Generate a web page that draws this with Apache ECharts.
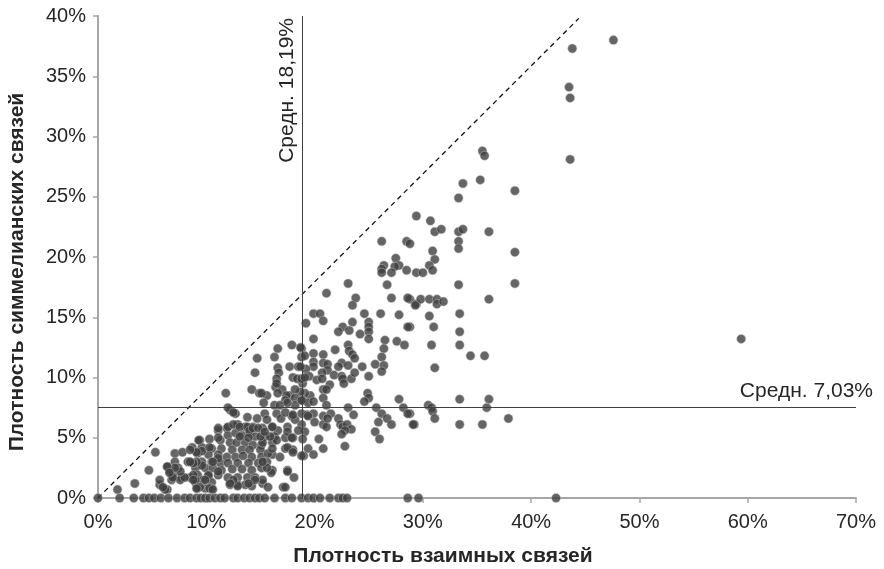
<!DOCTYPE html>
<html><head><meta charset="utf-8">
<script src="https://cdn.jsdelivr.net/npm/echarts@6/dist/echarts.min.js"></script>
<style>html,body{margin:0;padding:0;background:#fff}#c{width:884px;height:569px}</style>
</head><body><div id="c"></div>
<script>
// ---- data (percent) ----
const xAxisTitle = 'Плотность взаимных связей';
const yAxisTitle = 'Плотность симмелианских связей';
const xRange = {min: 0, max: 70, interval: 10};
const yRange = {min: 0, max: 40, interval: 5};
const meanLabelX = 'Средн. 18,19%';
const meanLabelY = 'Средн. 7,03%';
const meanLineX = 18.9;   // position of vertical mean line as drawn
const meanLineY = 7.55;   // position of horizontal mean line as drawn
const referenceLine = [[0, 0], [44.4, 39.8]];

const pointsUpper = [
[43.8,37.3],[43.5,34.1],[43.6,33.2],[43.6,28.1],[47.6,38.0],[59.4,13.2],[35.5,28.8],[35.7,28.4],
[33.7,26.1],[35.3,26.4],[38.5,25.5],[33.3,24.9],[29.4,23.4],[30.7,23.0],[31.1,22.1],[31.7,22.3],
[33.3,22.1],[33.7,22.3],[36.1,22.1],[26.2,21.3],[28.5,21.3],[28.8,21.1],[33.3,21.3],[33.3,20.7],
[38.5,20.4],[30.9,20.5],[31.1,19.8],[27.5,19.9],[27.8,19.3],[27.4,19.2],[26.4,19.3],[26.2,19.0],
[26.2,18.7],[27.1,18.7],[28.5,18.9],[29.4,18.7],[30.0,18.7],[30.6,19.3],[30.9,18.9],[23.1,17.8],
[26.7,17.7],[33.3,17.7],[38.5,17.8],[36.1,16.5],[28.8,16.5],[29.4,16.1],[29.8,16.5],[30.6,16.5],
[31.3,16.5],[31.3,16.1],[31.9,16.3],[30.6,15.1],[28.8,14.2],[31.0,14.2],[33.4,15.3],[33.4,13.8],
[33.4,12.7],[30.8,12.7],[34.4,11.8],[35.7,11.8],[31.1,10.8],[33.4,8.2],[36.1,8.2],[35.9,7.5],
[30.5,7.7],[30.8,7.5],[30.9,7.2],[31.1,6.6],[28.8,7.0],[29.2,6.1],[33.4,6.1],[35.5,6.1],[37.9,6.6]
];

const pointsMiddle = [
[21.1,17.0],[23.8,16.6],[23.5,16.0],[27.1,16.6],[28.6,16.6],[29.3,16.0],[19.9,15.3],[20.5,15.3],
[20.8,14.7],[19.2,14.5],[24.6,15.3],[26.1,15.3],[27.8,15.2],[28.6,14.2],[25.0,14.6],[25.0,14.2],
[25.0,13.8],[25.0,13.2],[23.5,14.6],[22.6,14.2],[23.2,13.9],[22.2,13.8],[24.2,13.6],[19.9,13.2],
[26.5,13.1],[27.6,13.0],[28.3,12.7],[26.4,12.4],[23.1,12.7],[23.2,12.2],[21.9,12.3],[18.8,12.4],
[19.9,12.0],[20.8,11.9],[18.8,11.7],[19.1,11.8],[23.5,11.9],[23.7,11.6],[26.2,11.7],[25.6,11.1],
[26.4,11.0],[26.2,10.5],[24.4,10.9],[19.9,11.3],[19.9,10.9],[20.8,11.2],[21.2,11.1],[22.5,11.2],
[22.2,10.9],[23.1,11.0],[19.2,10.7],[21.2,10.6],[20.7,10.4],[19.5,10.1],[21.8,10.2],[22.5,10.1],
[22.6,9.9],[23.4,9.9],[23.7,10.4],[20.2,9.8],[20.7,9.9],[22.7,9.5],[25.0,10.1],[18.9,9.5],
[21.4,9.4],[20.8,9.0],[21.1,9.0],[19.6,8.5],[19.1,8.7],[20.8,8.3],[24.9,8.7],[25.0,8.3],
[24.6,8.0],[27.8,8.2],[18.9,8.1],[19.4,7.9],[19.9,8.0],[21.1,7.7],[23.1,7.5],[25.7,7.5],
[28.2,7.5],[28.6,7.0],[23.6,6.9],[26.2,7.0],[26.7,6.6],[27.1,6.1],[25.9,6.3],[29.1,6.1],
[18.8,7.0],[19.3,6.9],[19.9,7.0],[20.0,6.3],[20.8,6.8],[20.8,6.1],[21.1,5.9],[21.5,7.0],
[21.2,6.6],[22.2,6.6],[22.4,6.1],[22.6,5.9],[23.0,6.1],[23.4,5.7],[22.8,5.6],[22.5,5.3],
[25.6,5.5],[26.0,4.9],[18.8,6.1],[19.1,5.5],[18.9,4.9],[20.4,4.9],[22.8,4.3],[19.4,4.1],
[20.8,4.1],[19.9,3.6],[19.0,3.5],
[17.9,12.7],[16.6,12.4],[14.7,11.6],[16.3,11.7],[18.7,12.5],[14.5,10.4],[16.6,10.8],[16.7,10.4],
[16.5,9.9],[17.7,10.9],[18.5,10.9],[18.0,10.0],[18.4,9.9],[18.8,9.9],[18.7,10.9],[19.1,10.0],
[16.4,9.2],[17.0,9.0],[17.7,8.5],[18.7,8.8]
];

const pointsCluster = [
[11.8,8.7],[14.2,9.0],[14.9,8.7],[15.6,8.5],[16.6,8.7],[17.4,8.5],[16.5,9.5],[18.2,9.0],[18.2,8.3],
[17.3,8.1],[15.3,7.9],[16.3,7.7],[18.2,7.7],[12.2,7.3],[12.7,7.0],[13.8,6.7],[14.7,6.6],[15.4,7.0],
[16.5,7.0],[16.9,6.6],[17.9,6.8],[18.2,6.5],[17.5,5.9],[18.5,5.6],[16.1,5.9],[16.6,5.6],[15.2,5.8],
[12.9,6.1],[13.6,5.9],[14.3,5.9],[11.1,5.6],[11.9,5.8],[12.0,5.2],[12.7,5.4],[13.3,5.2],[14.0,5.4],
[14.5,5.1],[15.4,5.1],[16.3,5.1],[17.3,5.0],[18.0,5.0],[9.4,4.8],[10.3,4.9],[11.3,4.8],[12.2,4.6],
[12.8,4.6],[13.6,4.6],[14.3,4.4],[15.1,4.4],[16.1,4.6],[9.6,4.2],[10.5,4.1],[11.4,4.1],[12.4,4.0],
[13.3,4.0],[14.0,4.0],[15.0,4.0],[17.3,4.1],[18.0,4.0],[9.2,3.7],[10.2,3.6],[11.1,3.6],[11.9,3.4],
[12.7,3.4],[13.4,3.5],[14.2,3.4],[15.1,3.4],[16.1,3.6],[16.8,3.4],[18.8,3.5],[9.6,3.0],[10.5,3.0],
[11.3,2.9],[12.0,2.9],[12.9,2.9],[13.9,2.9],[14.8,2.9],[15.6,3.0],[9.0,2.5],[9.9,2.5],[10.6,2.5],
[11.4,2.3],[12.4,2.4],[13.3,2.4],[14.2,2.3],[15.1,2.5],[16.1,2.3],[17.5,2.3],[9.2,1.9],[10.2,1.8],
[11.1,1.9],[12.0,1.7],[12.9,1.7],[13.8,1.7],[14.5,1.7],[18.1,1.7],[9.0,1.3],[9.7,1.5],[10.5,1.3],
[12.2,1.1],[12.9,1.1],[13.6,1.1],[14.2,1.0],[15.2,1.2],[17.1,0.9],[9.2,0.8],[9.9,0.8],[10.5,0.8],
[12.0,7.5],[12.5,7.1],[15.1,8.7],[16.8,7.7],[17.5,7.9],[18.8,8.1],[17.3,7.1],[18.0,6.9],[19.4,6.8],
[17.5,5.5],[17.9,5.0],[17.5,4.2],[18.0,3.8],[17.5,2.2],[17.3,0.9],[15.7,0.9],[15.2,1.5],[16.0,2.1],
[15.6,2.5],[15.2,3.0],[15.7,3.7],[16.1,4.1],[16.5,4.8],[15.9,5.1],[15.2,4.6],[14.5,1.5],[13.9,1.2],
[12.9,1.0],[12.5,1.5],[12.2,1.2],[11.1,2.2],[10.2,1.9],[9.9,1.5],[9.4,0.9],[10.3,0.8],[10.6,0.7],
[9.6,2.7],[9.1,3.0],[9.6,3.9],[10.3,4.2],[11.1,5.8],[11.1,5.0],[11.1,3.3],[10.6,3.0],[12.0,5.9],
[12.5,6.1],[13.1,5.9],[13.1,5.1],[13.8,5.9],[14.0,5.6],[14.3,5.8],[14.8,5.8],[13.9,5.0],[15.0,5.1],
[15.4,5.5],[16.1,5.9],[15.6,6.5]
];

const pointsLeft = [
[5.3,3.8],[4.7,2.3],[3.4,1.2],[1.8,0.7],[5.7,1.1],[6.4,0.7],[7.1,3.7],[7.8,3.8],[8.7,4.2],[9.1,3.8],
[9.3,4.8],[7.1,3.0],[8.3,3.0],[8.8,2.9],[6.4,2.6],[6.6,2.3],[7.4,2.5],[6.9,1.9],[7.7,1.7],[8.5,1.7],
[9.0,1.5],[6.8,1.5],[7.6,1.5],[9.1,0.8],[8.5,3.0],[8.0,1.7],[7.6,2.2],[7.1,2.5],[6.9,1.7],[6.4,2.6],
[6.6,2.1],[5.7,1.5],[6.2,0.7],[8.8,1.9],[8.8,1.5],[8.5,4.0],[6.0,0.9]
];

const zeroRowX = [0,2.0,3.3,4.2,4.7,5.2,5.8,6.5,7.3,8.0,8.5,9.1,9.5,9.9,10.3,10.8,11.3,11.7,12.5,12.9,
13.5,14.0,14.5,14.9,15.4,16.3,17.3,17.9,18.8,19.4,19.9,20.5,21.4,22.2,22.6,23.0,28.6,29.6,42.3];

// ---- chart ----
const font = "'Liberation Sans', Arial, sans-serif";
const textColor = '#262626';
const axisColor = '#a6a6a6';
const allPoints = [].concat(pointsUpper, pointsMiddle, pointsCluster, pointsLeft, zeroRowX.map(x => [x, 0]));

const chart = echarts.init(document.getElementById('c'), null, {renderer: 'canvas'});
chart.setOption({
  animation: false,
  backgroundColor: '#fff',
  grid: {left: 98, right: 28, top: 16, bottom: 71, outerBoundsMode: 'none', containLabel: false},
  xAxis: {
    type: 'value', min: xRange.min, max: xRange.max, interval: xRange.interval,
    name: xAxisTitle, nameLocation: 'middle', nameGap: 48,
    nameTextStyle: {fontFamily: font, fontSize: 21, fontWeight: 'bold', color: textColor, padding: [0, 68, 0, 0]},
    axisLine: {show: true, onZero: false, lineStyle: {color: axisColor, width: 2}},
    axisTick: {show: true, length: 5, lineStyle: {color: axisColor, width: 1.5}},
    axisLabel: {formatter: '{value}%', fontFamily: font, fontSize: 20, color: textColor, margin: 14},
    splitLine: {show: false}
  },
  yAxis: {
    type: 'value', min: yRange.min, max: yRange.max, interval: yRange.interval,
    name: yAxisTitle, nameLocation: 'middle', nameGap: 70,
    nameTextStyle: {fontFamily: font, fontSize: 21, fontWeight: 'bold', color: textColor, padding: [0, 30, 0, 0]},
    axisLine: {show: true, lineStyle: {color: axisColor, width: 2}},
    axisTick: {show: true, length: 5, lineStyle: {color: axisColor, width: 1.5}},
    axisLabel: {formatter: '{value}%', fontFamily: font, fontSize: 20, color: textColor, margin: 12},
    splitLine: {show: false}
  },
  series: [
    {
      type: 'line', data: referenceLine, symbol: 'none', silent: true, z: 1,
      lineStyle: {color: '#111', width: 1.3, type: [5, 4]}
    },
    {
      type: 'scatter', data: allPoints, symbolSize: 9, clip: false, z: 3,
      itemStyle: {color: '#3f3f3f', borderColor: 'rgba(190,190,190,0.8)', borderWidth: 0.8},
      markLine: {
        silent: true, symbol: 'none', animation: false,
        lineStyle: {color: '#404040', width: 1, type: 'solid'},
        label: {fontFamily: font, fontSize: 21, color: textColor},
        data: [
          {xAxis: meanLineX, label: {formatter: meanLabelX, position: 'insideEndTop', distance: [2, 5]}},
          {yAxis: meanLineY, label: {formatter: meanLabelY, position: 'insideEndTop', distance: [-17, 5]}}
        ]
      }
    }
  ]
});
</script>
</body></html>
